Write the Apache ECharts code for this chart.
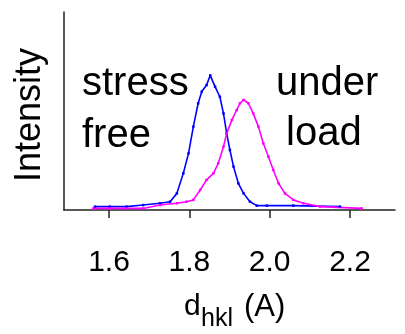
<!DOCTYPE html>
<html>
<head>
<meta charset="utf-8">
<script src="https://cdn.jsdelivr.net/npm/echarts@6/dist/echarts.min.js"></script>
<style>
html,body{margin:0;padding:0;background:#fff;}
#c{width:405px;height:334px;}
</style>
</head>
<body>
<div id="c"></div>
<script>
// d-spacing (A) and relative intensity
var stressFreeD = [1.565,1.602,1.644,1.685,1.727,1.752,1.769,1.785,1.798,1.810,1.822,1.831,1.843,1.852,1.864,1.876,1.885,1.893,1.901,1.910,1.922,1.935,1.951,1.968,1.993,2.059,2.175];
var stressFreeI = [0.017,0.017,0.017,0.025,0.034,0.042,0.084,0.185,0.286,0.421,0.539,0.598,0.631,0.680,0.623,0.572,0.488,0.387,0.303,0.219,0.135,0.084,0.042,0.022,0.022,0.022,0.017];
var underLoadD = [1.561,1.602,1.644,1.685,1.727,1.769,1.793,1.810,1.827,1.843,1.860,1.872,1.885,1.893,1.906,1.918,1.926,1.935,1.947,1.959,1.972,1.984,1.997,2.009,2.022,2.038,2.059,2.084,2.126,2.229];
var underLoadI = [0.008,0.008,0.008,0.008,0.025,0.034,0.042,0.051,0.101,0.152,0.185,0.236,0.320,0.387,0.455,0.505,0.539,0.556,0.539,0.488,0.421,0.337,0.269,0.202,0.135,0.084,0.051,0.034,0.017,0.008];
var xTicks = [1.6, 1.8, 2.0, 2.2];
var xMin = 1.488, xMax = 2.312;

function pairs(xs, ys){ return xs.map(function(x,i){ return [x, ys[i]]; }); }

var FONT = '"Liberation Sans", Arial, sans-serif';
var chart = echarts.init(document.getElementById('c'), null, {renderer:'canvas'});
chart.setOption({
  animation: false,
  backgroundColor: '#ffffff',
  grid: {left: 64, right: 10, top: 12, bottom: 124, containLabel: false},
  xAxis: {
    type: 'value', min: xMin, max: xMax, offset: 5,
    axisLine: {show: true, lineStyle: {color: '#222', width: 1.5}},
    axisTick: {show: true, length: 8, inside: false, customValues: xTicks, lineStyle: {color: '#222', width: 1.5}},
    axisLabel: {show: true, customValues: xTicks, margin: 33, fontSize: 30, fontFamily: FONT, color: '#000',
      formatter: function(v){ return v.toFixed(1); }},
    splitLine: {show: false}
  },
  yAxis: {
    type: 'value', min: 0, max: 1,
    axisLine: {show: true, lineStyle: {color: '#222', width: 1.5}},
    axisTick: {show: false}, axisLabel: {show: false}, splitLine: {show: false}
  },
  series: [
    {type: 'line', name: 'stress free', data: pairs(stressFreeD, stressFreeI),
     lineStyle: {color: '#0000ff', width: 1.6}, itemStyle: {color: '#0000ff'},
     symbol: 'rect', symbolSize: 2.5, showSymbol: true},
    {type: 'line', name: 'under load', data: pairs(underLoadD, underLoadI),
     lineStyle: {color: '#ff00ff', width: 1.6}, itemStyle: {color: '#ff00ff'},
     symbol: 'rect', symbolSize: 2.5, showSymbol: true}
  ],
  graphic: [
    {type: 'text', x: 82, y: 84, style: {text: 'stress', font: '40px ' + FONT, fill: '#000', textAlign: 'left', textVerticalAlign: 'middle'}},
    {type: 'text', x: 82, y: 136, style: {text: 'free', font: '40px ' + FONT, fill: '#000', textAlign: 'left', textVerticalAlign: 'middle'}},
    {type: 'text', x: 276, y: 84, style: {text: 'under', font: '40px ' + FONT, fill: '#000', textAlign: 'left', textVerticalAlign: 'middle'}},
    {type: 'text', x: 286, y: 134, style: {text: 'load', font: '40px ' + FONT, fill: '#000', textAlign: 'left', textVerticalAlign: 'middle'}},
    {type: 'text', x: 30, y: 115, rotation: Math.PI/2, style: {text: 'Intensity', font: '36px ' + FONT, fill: '#000', textAlign: 'center', textVerticalAlign: 'middle'}},
    {type: 'text', x: 184, y: 307, style: {text: 'd', font: '30px ' + FONT, fill: '#000', textAlign: 'left', textVerticalAlign: 'middle'}},
    {type: 'text', x: 201, y: 319, style: {text: 'hkl', font: '25px ' + FONT, fill: '#000', textAlign: 'left', textVerticalAlign: 'middle'}},
    {type: 'text', x: 244, y: 307, style: {text: '(A)', font: '31px ' + FONT, fill: '#000', textAlign: 'left', textVerticalAlign: 'middle'}}
  ]
});
</script>
</body>
</html>
